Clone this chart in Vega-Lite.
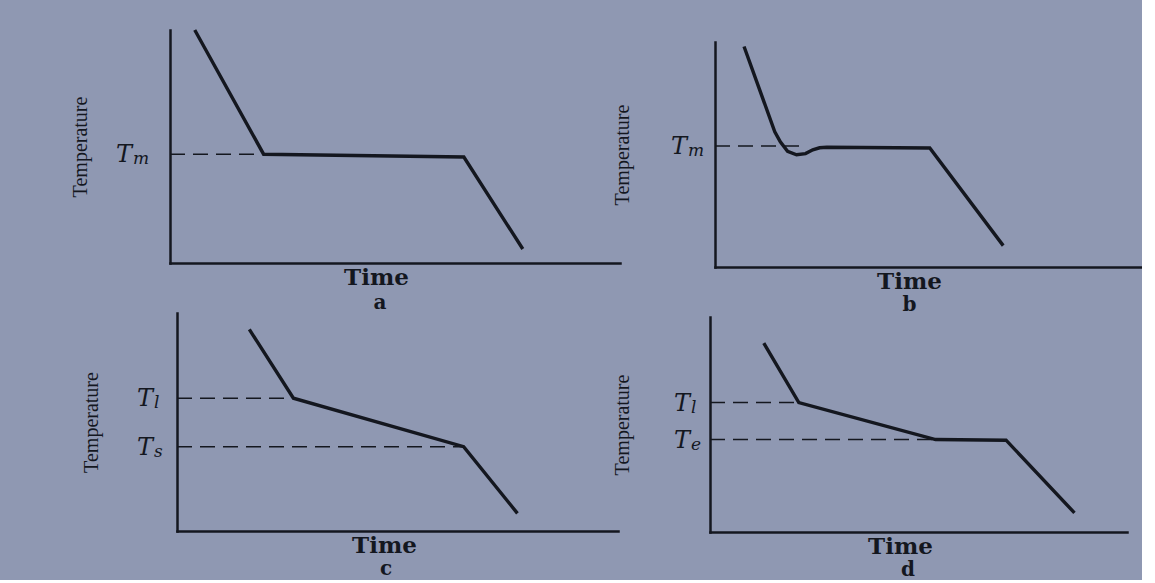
{
  "$schema": "https://vega.github.io/schema/vega-lite/v6.json",
  "background": "#8f98b2",
  "padding": {"left": 70, "top": 23, "right": 0, "bottom": 0},
  "datasets": {
    "curves": [
      {"panel": "a", "t": 5.5, "temp": 100},
      {"panel": "a", "t": 20.8, "temp": 46.7},
      {"panel": "a", "t": 65.3, "temp": 45.5},
      {"panel": "a", "t": 78.4, "temp": 6.0},
      {"panel": "b", "t": 6.8, "temp": 98.0},
      {"panel": "b", "t": 14.0, "temp": 60.1},
      {"panel": "b", "t": 15.3, "temp": 55.6},
      {"panel": "b", "t": 17.0, "temp": 51.4},
      {"panel": "b", "t": 19.1, "temp": 49.9},
      {"panel": "b", "t": 21.2, "temp": 50.4},
      {"panel": "b", "t": 22.9, "temp": 52.1},
      {"panel": "b", "t": 24.5, "temp": 53.0},
      {"panel": "b", "t": 26.2, "temp": 53.2},
      {"panel": "b", "t": 50.3, "temp": 52.9},
      {"panel": "b", "t": 67.5, "temp": 9.5},
      {"panel": "c", "t": 16.4, "temp": 92.5},
      {"panel": "c", "t": 26.4, "temp": 60.9},
      {"panel": "c", "t": 65.0, "temp": 38.7},
      {"panel": "c", "t": 77.2, "temp": 8.1},
      {"panel": "d", "t": 12.9, "temp": 87.9},
      {"panel": "d", "t": 21.3, "temp": 60.2},
      {"panel": "d", "t": 54.1, "temp": 43.0},
      {"panel": "d", "t": 71.0, "temp": 42.7},
      {"panel": "d", "t": 87.4, "temp": 8.9}
    ],
    "dashes": [
      {"panel": "a", "g": "a1", "t": 0, "temp": 46.7},
      {"panel": "a", "g": "a1", "t": 20.8, "temp": 46.7},
      {"panel": "b", "g": "b1", "t": 0, "temp": 53.8},
      {"panel": "b", "g": "b1", "t": 20.5, "temp": 53.8},
      {"panel": "c", "g": "c1", "t": 0, "temp": 60.9},
      {"panel": "c", "g": "c1", "t": 26.4, "temp": 60.9},
      {"panel": "c", "g": "c2", "t": 0, "temp": 38.7},
      {"panel": "c", "g": "c2", "t": 65.0, "temp": 38.7},
      {"panel": "d", "g": "d1", "t": 0, "temp": 60.2},
      {"panel": "d", "g": "d1", "t": 21.3, "temp": 60.2},
      {"panel": "d", "g": "d2", "t": 0, "temp": 43.0},
      {"panel": "d", "g": "d2", "t": 54.1, "temp": 43.0}
    ],
    "labels": [
      {"panel": "a", "t": 0, "temp": 46.7, "sub": "m"},
      {"panel": "b", "t": 0, "temp": 53.8, "sub": "m"},
      {"panel": "c", "t": 0, "temp": 60.9, "sub": "l"},
      {"panel": "c", "t": 0, "temp": 38.7, "sub": "s"},
      {"panel": "d", "t": 0, "temp": 60.2, "sub": "l"},
      {"panel": "d", "t": 0, "temp": 43.0, "sub": "e"}
    ]
  },
  "concat": [
    {
      "width": 450,
      "height": 233,
      "title": {"text": "a", "orient": "bottom", "anchor": "middle", "dx": -15, "offset": 4},
      "encoding": {
        "x": {"field": "t", "type": "quantitative", "scale": {"domain": [0, 100], "range": [0, 450]},
              "axis": {"title": "Time", "titleX": 206, "titlePadding": 3}},
        "y": {"field": "temp", "type": "quantitative", "scale": {"domain": [0, 100], "range": [233, 0]},
              "axis": {"title": "Temperature", "titlePadding": 80}}
      },
      "layer": [
        {"data": {"name": "curves"}, "transform": [{"filter": "datum.panel === 'a'"}],
         "mark": {"type": "line", "color": "#14171f", "strokeWidth": 3.4}},
        {"data": {"name": "dashes"}, "transform": [{"filter": "datum.panel === 'a'"}],
         "mark": {"type": "line", "color": "#14171f", "strokeWidth": 1.5, "strokeDash": [15, 8]},
         "encoding": {"detail": {"field": "g"}}},
        {"data": {"name": "labels"}, "transform": [{"filter": "datum.panel === 'a'"}],
         "mark": {"type": "text", "text": "T", "align": "left", "baseline": "alphabetic", "dx": -54, "dy": 8, "font": "DejaVu Serif", "fontStyle": "italic", "fontSize": 24, "color": "#14171f"}},
        {"data": {"name": "labels"}, "transform": [{"filter": "datum.panel === 'a'"}],
         "mark": {"type": "text", "align": "left", "baseline": "alphabetic", "dx": -37, "dy": 10, "font": "DejaVu Serif", "fontStyle": "italic", "fontSize": 17, "color": "#14171f"},
         "encoding": {"text": {"field": "sub"}}}
      ]
    },
    {
      "width": 427,
      "height": 237,
      "title": {"text": "b", "orient": "bottom", "anchor": "middle", "dx": -19, "offset": 2},
      "encoding": {
        "x": {"field": "t", "type": "quantitative", "scale": {"domain": [0, 100], "range": [0, 427]},
              "axis": {"title": "Time", "titleX": 194, "titlePadding": 3}},
        "y": {"field": "temp", "type": "quantitative", "scale": {"domain": [0, 100], "range": [237, 12]},
              "axis": {"title": "Temperature", "titlePadding": 83}}
      },
      "layer": [
        {"data": {"name": "curves"}, "transform": [{"filter": "datum.panel === 'b'"}],
         "mark": {"type": "line", "color": "#14171f", "strokeWidth": 3.4}},
        {"data": {"name": "dashes"}, "transform": [{"filter": "datum.panel === 'b'"}],
         "mark": {"type": "line", "color": "#14171f", "strokeWidth": 1.5, "strokeDash": [15, 8]},
         "encoding": {"detail": {"field": "g"}}},
        {"data": {"name": "labels"}, "transform": [{"filter": "datum.panel === 'b'"}],
         "mark": {"type": "text", "text": "T", "align": "left", "baseline": "alphabetic", "dx": -44, "dy": 8, "font": "DejaVu Serif", "fontStyle": "italic", "fontSize": 24, "color": "#14171f"}},
        {"data": {"name": "labels"}, "transform": [{"filter": "datum.panel === 'b'"}],
         "mark": {"type": "text", "align": "left", "baseline": "alphabetic", "dx": -27, "dy": 10, "font": "DejaVu Serif", "fontStyle": "italic", "fontSize": 17, "color": "#14171f"},
         "encoding": {"text": {"field": "sub"}}}
      ]
    },
    {
      "width": 448,
      "height": 218,
      "title": {"text": "c", "orient": "bottom", "anchor": "middle", "dx": -8, "offset": 2},
      "encoding": {
        "x": {"field": "t", "type": "quantitative", "scale": {"domain": [0, 100], "range": [7, 448]},
              "axis": {"title": "Time", "titleX": 214, "titlePadding": 3}},
        "y": {"field": "temp", "type": "quantitative", "scale": {"domain": [0, 100], "range": [218, 0]},
              "axis": {"title": "Temperature", "titlePadding": 76, "offset": -7}}
      },
      "layer": [
        {"data": {"name": "curves"}, "transform": [{"filter": "datum.panel === 'c'"}],
         "mark": {"type": "line", "color": "#14171f", "strokeWidth": 3.4}},
        {"data": {"name": "dashes"}, "transform": [{"filter": "datum.panel === 'c'"}],
         "mark": {"type": "line", "color": "#14171f", "strokeWidth": 1.5, "strokeDash": [15, 8]},
         "encoding": {"detail": {"field": "g"}}},
        {"data": {"name": "labels"}, "transform": [{"filter": "datum.panel === 'c'"}],
         "mark": {"type": "text", "text": "T", "align": "left", "baseline": "alphabetic", "dx": -40, "dy": 8, "font": "DejaVu Serif", "fontStyle": "italic", "fontSize": 24, "color": "#14171f"}},
        {"data": {"name": "labels"}, "transform": [{"filter": "datum.panel === 'c'"}],
         "mark": {"type": "text", "align": "left", "baseline": "alphabetic", "dx": -23, "dy": 10, "font": "DejaVu Serif", "fontStyle": "italic", "fontSize": 17, "color": "#14171f"},
         "encoding": {"text": {"field": "sub"}}}
      ]
    },
    {
      "width": 412,
      "height": 219,
      "title": {"text": "d", "orient": "bottom", "anchor": "middle", "dx": -13, "offset": 2},
      "encoding": {
        "x": {"field": "t", "type": "quantitative", "scale": {"domain": [0, 100], "range": [-5, 412]},
              "axis": {"title": "Time", "titleX": 185, "titlePadding": 3}},
        "y": {"field": "temp", "type": "quantitative", "scale": {"domain": [0, 100], "range": [219, 4]},
              "axis": {"title": "Temperature", "titlePadding": 78, "offset": 5}}
      },
      "layer": [
        {"data": {"name": "curves"}, "transform": [{"filter": "datum.panel === 'd'"}],
         "mark": {"type": "line", "color": "#14171f", "strokeWidth": 3.4}},
        {"data": {"name": "dashes"}, "transform": [{"filter": "datum.panel === 'd'"}],
         "mark": {"type": "line", "color": "#14171f", "strokeWidth": 1.5, "strokeDash": [15, 8]},
         "encoding": {"detail": {"field": "g"}}},
        {"data": {"name": "labels"}, "transform": [{"filter": "datum.panel === 'd'"}],
         "mark": {"type": "text", "text": "T", "align": "left", "baseline": "alphabetic", "dx": -36, "dy": 8, "font": "DejaVu Serif", "fontStyle": "italic", "fontSize": 24, "color": "#14171f"}},
        {"data": {"name": "labels"}, "transform": [{"filter": "datum.panel === 'd'"}],
         "mark": {"type": "text", "align": "left", "baseline": "alphabetic", "dx": -19, "dy": 10, "font": "DejaVu Serif", "fontStyle": "italic", "fontSize": 17, "color": "#14171f"},
         "encoding": {"text": {"field": "sub"}}}
      ]
    }
  ],
  "columns": 2,
  "align": "none",
  "bounds": "flush",
  "spacing": {"row": 46, "column": 95},
  "config": {
    "view": {"stroke": null},
    "axis": {
      "labels": false, "ticks": false, "grid": false,
      "domainColor": "#14171f", "domainWidth": 2.5, "domainCap": "square",
      "titleColor": "#14171f"
    },
    "axisX": {"titleFont": "DejaVu Serif", "titleFontSize": 23, "titleFontWeight": "bold"},
    "axisY": {"titleFont": "Liberation Serif", "titleFontSize": 20, "titleFontWeight": "normal"},
    "title": {"font": "DejaVu Serif", "fontSize": 20, "fontWeight": "bold", "color": "#14171f"}
  }
}
